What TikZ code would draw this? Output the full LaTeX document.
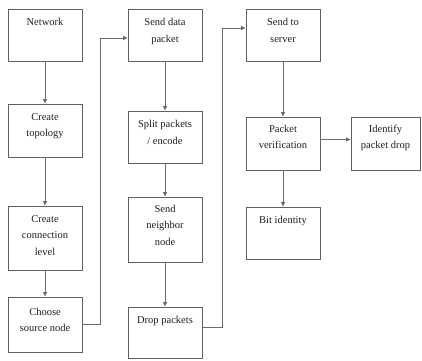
\documentclass[tikz,border=0pt]{standalone}
\usepackage{fontspec}
\setmainfont{Liberation Serif}
\usetikzlibrary{arrows.meta}
\tikzset{
  box/.style={draw=black!62, line width=0.9pt, inner sep=0pt, minimum width=74pt},
  lbl/.style={font=\fontsize{10.5}{16.6}\selectfont, align=center, inner sep=0pt, anchor=north, text=black!88},
  arr/.style={draw=black!58, line width=0.9pt, -{Triangle[length=4.5pt,width=4pt]}},
}
\begin{document}
\begin{tikzpicture}
\useasboundingbox (0,0) rectangle (422pt,-360pt);
% column 1
\node[box, minimum height=52pt] (net) at (45pt,-35pt) {};
\node[lbl] (nett) at ([yshift=-9.5pt]net.north) {Network};
\node[box, minimum height=53pt] (topo) at (45pt,-130.5pt) {};
\node[lbl] (topot) at ([yshift=-9.5pt]topo.north) {Create\\topology};
\node[box, minimum height=64pt] (conn) at (45pt,-238pt) {};
\node[lbl] (connt) at ([yshift=-9.5pt]conn.north) {Create\\connection\\level};
\node[box, minimum height=55pt] (src) at (45pt,-324.5pt) {};
\node[lbl] (srct) at ([yshift=-11pt]src.north) {Choose\\source node};
% column 2
\node[box, minimum height=52pt] (sdp) at (165pt,-35pt) {};
\node[lbl] (sdpt) at ([yshift=-9.5pt]sdp.north) {Send data\\packet};
\node[box, minimum height=52pt] (split) at (165pt,-137pt) {};
\node[lbl] (splitt) at ([yshift=-9.5pt]split.north) {Split packets\\/ encode};
\node[box, minimum height=65pt] (neigh) at (165pt,-229.5pt) {};
\node[lbl] (neight) at ([yshift=-8pt]neigh.north) {Send\\neighbor\\node};
\node[box, minimum height=51pt] (drop) at (165pt,-332.5pt) {};
\node[lbl] (dropt) at ([yshift=-9pt]drop.north) {Drop packets};
% column 3
\node[box, minimum height=52pt] (server) at (283pt,-35pt) {};
\node[lbl] (servert) at ([yshift=-9.5pt]server.north) {Send to\\server};
\node[box, minimum height=53pt] (verif) at (283pt,-143.5pt) {};
\node[lbl] (verift) at ([yshift=-8pt]verif.north) {Packet\\verification};
\node[box, minimum height=53pt, minimum width=69pt] (ident) at (385.5pt,-143.5pt) {};
\node[lbl] (identt) at ([yshift=-8pt]ident.north) {Identify\\packet drop};
\node[box, minimum height=52pt] (bit) at (283pt,-233pt) {};
\node[lbl] (bitt) at ([yshift=-9pt]bit.north) {Bit identity};
% connectors
\draw[arr] (net) -- (topo);
\draw[arr] (topo) -- (conn);
\draw[arr] (conn) -- (src);
\draw[arr] (src.east) -- ++(18pt,0) |- ([yshift=-3pt]sdp.west);
\draw[arr] (sdp) -- (split);
\draw[arr] (split) -- (neigh);
\draw[arr] (neigh) -- (drop);
\draw[arr] ([yshift=5.5pt]drop.east) -- ++(20pt,0) |- ([yshift=7pt]server.west);
\draw[arr] (server) -- (verif);
\draw[arr] ([yshift=4pt]verif.east) -- ([yshift=4pt]ident.west);
\draw[arr] (verif) -- (bit);
\end{tikzpicture}
\end{document}
